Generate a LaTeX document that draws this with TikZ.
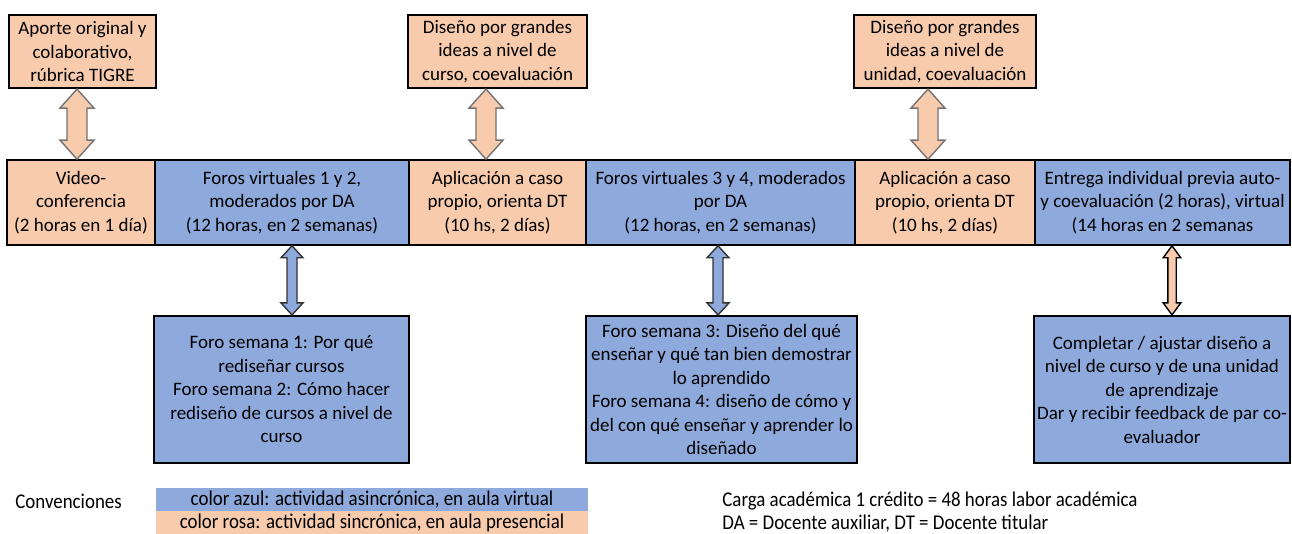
\documentclass[tikz,border=0pt]{standalone}
\usepackage{fontspec}
\setmainfont{Carlito}
\newfontfamily\leyfont[FakeStretch=0.9]{Carlito}
\usetikzlibrary{calc}
\definecolor{rosa}{HTML}{F8CBAD}
\definecolor{azul}{HTML}{8EA9DB}
\tikzset{
  caja/.style={draw=black, align=center, inner sep=1pt, font=\fontsize{9.5}{11.75}\selectfont},
  cajarosa/.style={caja, fill=rosa},
  cajaazul/.style={caja, fill=azul},
  arriba/.style={line width=1.1pt, minimum height=36.5pt},
  medio/.style={line width=0.8pt, minimum height=42.5pt},
  abajo/.style={line width=1.1pt, minimum height=73.5pt},
  flecha/.style={line width=0.7pt, line join=miter},
  leyenda/.style={inner sep=0pt, font=\leyfont\fontsize{10.5}{11.75}\selectfont}
}
\newcommand{\dblarrow}[6]{%
  \draw[#6] let \p1=(#1), \p2=(#2) in
    (\x1,\y1) -- (\x1+#4,\y1-#5) -- (\x1+#3,\y1-#5) -- (\x1+#3,\y2+#5)
    -- (\x1+#4,\y2+#5) -- (\x1,\y2) -- (\x1-#4,\y2+#5) -- (\x1-#3,\y2+#5)
    -- (\x1-#3,\y1-#5) -- (\x1-#4,\y1-#5) -- cycle;
}
\begin{document}
\begin{tikzpicture}[x=0.5pt,y=-0.5pt]
    \useasboundingbox (0,0) rectangle (1292,534);

    \node[cajarosa, arriba, minimum width=73.5pt] (ap1) at (82.5,51.5) {Aporte original y\\colaborativo,\\rúbrica TIGRE};
    \node[cajarosa, arriba, minimum width=89.5pt] (ap2) at (497.5,51.5) {Diseño por grandes\\ideas a nivel de\\curso, coevaluación};
    \node[cajarosa, arriba, minimum width=91pt] (ap3) at (945,51.5) {Diseño por grandes\\ideas a nivel de\\unidad, coevaluación};

    \node[cajarosa, medio, minimum width=74pt] (m1) at (81,202.5) {Video-\\conferencia\\(2 horas en 1 día)};
    \node[cajaazul, medio, minimum width=127pt] (m2) at (282,202.5) {Foros virtuales 1 y 2,\\moderados por DA\\(12 horas, en 2 semanas)};
    \node[cajarosa, medio, minimum width=88.5pt] (m3) at (497.5,202.5) {Aplicación a caso\\propio, orienta DT\\(10 hs, 2 días)};
    \node[cajaazul, medio, minimum width=134.5pt] (m4) at (720.5,202.5) {Foros virtuales 3 y 4, moderados\\por DA\\(12 horas, en 2 semanas)};
    \node[cajarosa, medio, minimum width=90pt] (m5) at (945,202.5) {Aplicación a caso\\propio, orienta DT\\(10 hs, 2 días)};
    \node[cajaazul, medio, minimum width=127.5pt] (m6) at (1162.5,202.5) {Entrega individual previa auto-\\y coevaluación (2 horas), virtual\\(14 horas en 2 semanas};

    \node[cajaazul, abajo, minimum width=127.5pt] (b1) at (281.5,389.5) {Foro semana 1: Por qué\\rediseñar cursos\\Foro semana 2: Cómo hacer\\rediseño de cursos a nivel de\\curso};
    \node[cajaazul, abajo, minimum width=135.5pt] (b2) at (721.5,389.5) {Foro semana 3: Diseño del qué\\enseñar y qué tan bien demostrar\\lo aprendido\\Foro semana 4: diseño de cómo y\\del con qué enseñar y aprender lo\\diseñado};
    \node[cajaazul, abajo, minimum width=128pt] (b3) at (1162,389.5) {Completar / ajustar diseño a\\nivel de curso y de una unidad\\de aprendizaje\\Dar y recibir feedback de par co-\\evaluador};

    \coordinate (f1) at ($(ap1.south)+(-5.5,0)$);
    \coordinate (f2) at ($(ap2.south)+(-11.5,0)$);
    \coordinate (f3) at ($(ap3.south)+(-17,0)$);
    \coordinate (f4) at ($(m2.south)+(10,0)$);
    \coordinate (f5) at ($(m4.south)+(-2.5,0)$);
    \coordinate (f6) at ($(m6.south)+(9.5,0)$);
    \dblarrow{f1}{f1 |- m1.north}{5pt}{8.5pt}{9.5pt}{flecha, fill=rosa, draw=black!55}
    \dblarrow{f2}{f2 |- m3.north}{5pt}{8.5pt}{9.5pt}{flecha, fill=rosa, draw=black!55}
    \dblarrow{f3}{f3 |- m5.north}{5pt}{8.5pt}{9.5pt}{flecha, fill=rosa, draw=black!55}
    \dblarrow{f4}{f4 |- b1.north}{2.5pt}{5.5pt}{6pt}{flecha, fill=azul, draw=black!80}
    \dblarrow{f5}{f5 |- b2.north}{2.5pt}{5.5pt}{6pt}{flecha, fill=azul, draw=black!80}
    \dblarrow{f6}{f6 |- b3.north}{2.1pt}{4.4pt}{6pt}{flecha, fill=rosa, draw=black}

    \node[leyenda, anchor=west] (conv) at (15,501) {Convenciones};
    \node[leyenda, fill=azul, minimum width=216pt, minimum height=11.75pt] (leyazul) at (372,499.75) {color azul: actividad asincrónica, en aula virtual};
    \node[leyenda, fill=rosa, minimum width=216pt, minimum height=11.25pt] (leyrosa) at (372,522.75) {color rosa: actividad sincrónica, en aula presencial};
    \node[leyenda, anchor=west] (carga) at (722,501) {Carga académica 1 crédito = 48 horas labor académica};
    \node[leyenda, anchor=west] (siglas) at (722,523.5) {DA = Docente auxiliar, DT = Docente titular};
\end{tikzpicture}
\end{document}
